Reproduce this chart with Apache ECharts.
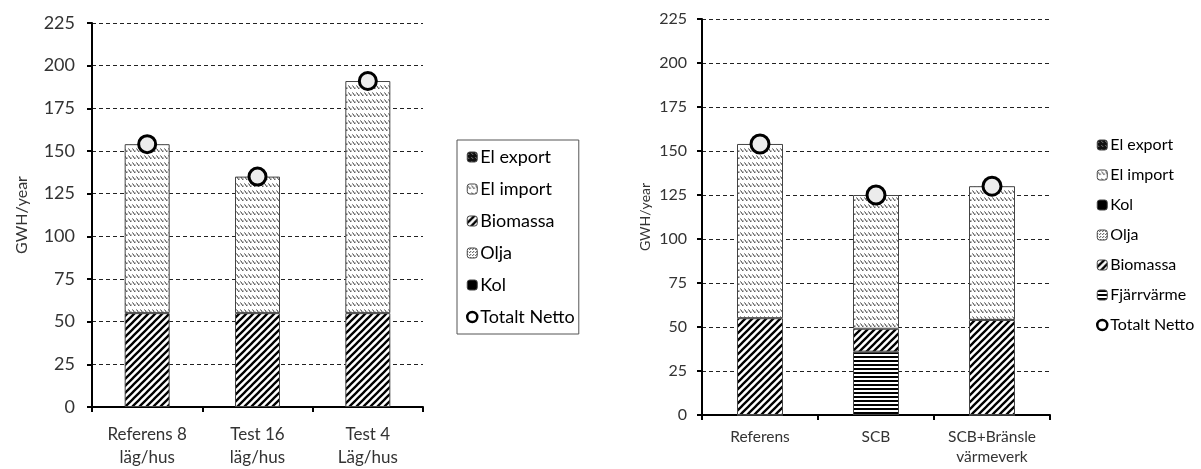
<!DOCTYPE html>
<html>
<head>
<meta charset="utf-8">
<script src="https://cdn.jsdelivr.net/npm/echarts@6/dist/echarts.min.js"></script>
<style>
html,body{margin:0;padding:0;background:#fff;}
#c{width:1201px;height:469px;}
</style>
</head>
<body>
<div id="c"></div>
<script>
// ---- data ----
const leftCategories = ['Referens 8\nläg/hus', 'Test 16\nläg/hus', 'Test 4\nLäg/hus'];
const leftBiomassa = [55, 55, 55];
const leftElImport = [99, 80, 136];
const leftTotal = [154, 135, 191];

const rightCategories = ['Referens', 'SCB', 'SCB+Bränsle\nvärmeverk'];
const rightFjarrvarme = [0, 36, 0];
const rightBiomassa = [55, 13, 54];
const rightElImport = [99, 76, 76];
const rightTotal = [154, 125, 130];

const emptyValues = [0, 0, 0];
const yMin = 0, yMax = 225, yStep = 25;

const leftLegend = ['El export', 'El import', 'Biomassa', 'Olja', 'Kol', 'Totalt Netto'];
const rightLegend = ['El export', 'El import', 'Kol', 'Olja', 'Biomassa', 'Fjärrvärme', 'Totalt Netto'];

// ---- patterns ----
function tile(w, h, draw) {
  const c = document.createElement('canvas');
  c.width = w; c.height = h;
  const ctx = c.getContext('2d');
  draw(ctx, w, h);
  return { image: c, repeat: 'repeat' };
}
const patImport = tile(4, 7, (x, w, h) => {
  x.fillStyle = '#fff'; x.fillRect(0, 0, w, h);
  x.strokeStyle = '#333'; x.lineWidth = 1;
  x.beginPath(); x.moveTo(0.5, 1.5); x.lineTo(3, 5); x.stroke();
  x.strokeStyle = '#aaa';
  x.beginPath(); x.moveTo(3, 5); x.lineTo(4.5, 2.5); x.stroke();
});
const patBio = tile(7, 7, (x, w, h) => {
  x.fillStyle = '#fff'; x.fillRect(0, 0, w, h);
  x.strokeStyle = '#000'; x.lineWidth = 2.3;
  x.beginPath();
  x.moveTo(-1, 8); x.lineTo(8, -1);
  x.moveTo(-2, 2); x.lineTo(2, -2);
  x.moveTo(5, 9); x.lineTo(9, 5);
  x.stroke();
});
const patFjarr = tile(4, 4, (x, w, h) => {
  x.fillStyle = '#fff'; x.fillRect(0, 0, w, h);
  x.fillStyle = '#000'; x.fillRect(0, 0, w, 2);
});
const patExport = tile(4, 4, (x, w, h) => {
  x.fillStyle = '#111'; x.fillRect(0, 0, w, h);
  x.strokeStyle = '#777'; x.lineWidth = 1;
  x.beginPath(); x.moveTo(0, 1); x.lineTo(2, 3); x.stroke();
});
const patOlja = tile(3, 3, (x, w, h) => {
  x.fillStyle = '#fff'; x.fillRect(0, 0, w, h);
  x.fillStyle = '#444'; x.fillRect(0, 0, 1, 1); x.fillRect(2, 1, 1, 1);
});

const FONT = 'Lato';
const TXT = '#333';

function barSeries(name, data, color, xi, w) {
  return {
    name, type: 'bar', stack: 's' + xi, xAxisIndex: xi, yAxisIndex: xi,
    data, barWidth: w,
    itemStyle: { color, borderColor: '#444', borderWidth: 1 },
    emphasis: { disabled: true }, animation: false
  };
}
function emptySeries(name, color, xi, w) {
  return {
    name, type: 'bar', stack: 's' + xi, xAxisIndex: xi, yAxisIndex: xi,
    data: emptyValues, barWidth: w,
    itemStyle: { color, borderColor: '#444', borderWidth: 0 },
    animation: false
  };
}
function totalSeries(data, xi, size) {
  return {
    name: 'Totalt Netto', type: 'scatter', xAxisIndex: xi, yAxisIndex: xi,
    data, symbol: 'circle', symbolSize: size, z: 10,
    itemStyle: { color: '#ececec', borderColor: '#000', borderWidth: 3, opacity: 1 },
    animation: false
  };
}

function xAxis(cats, gi, fs, lh, margin) {
  return {
    type: 'category', gridIndex: gi, data: cats,
    axisLine: { lineStyle: { color: '#000', width: 2 } },
    axisTick: { show: true, length: 5, lineStyle: { color: '#000', width: 2 } },
    axisLabel: { fontFamily: FONT, fontSize: fs, color: TXT, lineHeight: lh, margin }
  };
}
function yAxis(gi, fs, margin, nameFs, nameGap) {
  return {
    type: 'value', gridIndex: gi, min: yMin, max: yMax, interval: yStep,
    name: 'GWH/year', nameLocation: 'middle', nameGap,
    nameTextStyle: { fontFamily: FONT, fontSize: nameFs, color: TXT },
    axisLine: { show: true, lineStyle: { color: '#000', width: 2 } },
    axisTick: { show: true, length: 5, lineStyle: { color: '#000', width: 2 } },
    axisLabel: { fontFamily: FONT, fontSize: fs, color: TXT, margin },
    splitLine: { show: true, lineStyle: { color: '#222', width: 1, type: [4, 3] } }
  };
}

function legendItems(names) {
  return names.map(n => n === 'Totalt Netto'
    ? { name: n, itemStyle: { color: '#fff', borderColor: '#000', borderWidth: 2.5 } }
    : { name: n, itemStyle: { borderColor: '#444', borderWidth: 1 } });
}

const chart = echarts.init(document.getElementById('c'), null, { renderer: 'canvas' });
chart.setOption({
  animation: false,
  grid: [
    { left: 92, top: 23, width: 331, height: 387 },
    { left: 702, top: 19, width: 348, height: 396 }
  ],
  xAxis: [
    xAxis(leftCategories, 0, 17, 23, 16),
    xAxis(rightCategories, 1, 15.5, 20, 12)
  ],
  yAxis: [
    yAxis(0, 18, 17, 16, 62),
    yAxis(1, 16, 15, 14, 50)
  ],
  legend: [
    {
      orient: 'vertical', left: 457, top: 140,
      padding: [8, 4, 8, 9], borderColor: '#555', borderWidth: 1,
      itemWidth: 10, itemHeight: 10, itemGap: 14,
      textStyle: { fontFamily: FONT, fontSize: 18, lineHeight: 18, color: '#000', padding: [0, 0, 0, -2] },
      data: legendItems(leftLegend), selectedMode: false
    },
    {
      orient: 'vertical', left: 1088, top: 130,
      padding: [7, 8, 7, 8], borderWidth: 0,
      itemWidth: 10, itemHeight: 10, itemGap: 14,
      textStyle: { fontFamily: FONT, fontSize: 16, lineHeight: 16, color: '#000', padding: [0, 0, 0, -2] },
      data: legendItems(rightLegend), selectedMode: false
    }
  ],
  series: [
    emptySeries('El export', patExport, 0, 45),
    barSeries('Biomassa', leftBiomassa, patBio, 0, 45),
    barSeries('El import', leftElImport, patImport, 0, 45),
    emptySeries('Olja', patOlja, 0, 45),
    emptySeries('Kol', '#000', 0, 45),
    totalSeries(leftTotal, 0, 17),

    barSeries('Fjärrvärme', rightFjarrvarme, patFjarr, 1, 46),
    barSeries('Biomassa', rightBiomassa, patBio, 1, 46),
    barSeries('El import', rightElImport, patImport, 1, 46),
    totalSeries(rightTotal, 1, 18)
  ]
});
</script>
</body>
</html>
